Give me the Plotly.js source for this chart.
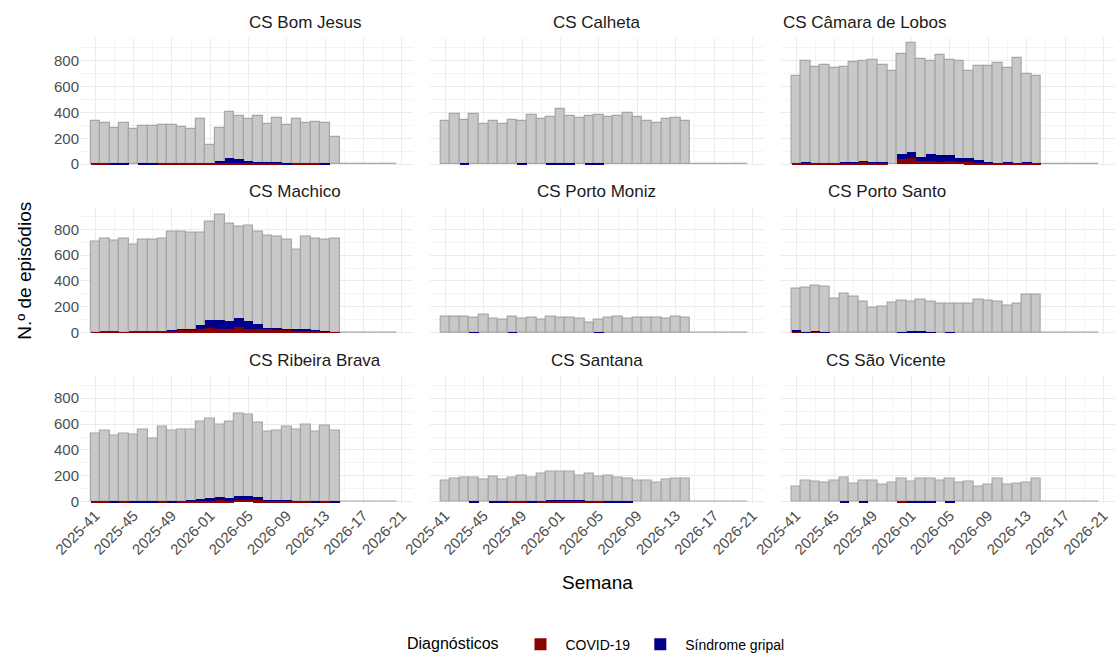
<!DOCTYPE html>
<html>
<head>
<meta charset="utf-8">
<script src="https://cdn.plot.ly/plotly-3.0.1.min.js"></script>
<style>body{margin:0}#chart{width:1120px;height:666px}</style>
</head>
<body>
<div id="chart"></div>
<script>
// semanas 2025-41 .. 2026-21
let weeks = [];
for (let w = 41; w <= 52; w++) weeks.push('2025-' + w);
for (let w = 1; w <= 21; w++) weeks.push('2026-' + String(w).padStart(2, '0'));
let tickLabels = ['2025-41','2025-45','2025-49','2026-01','2026-05','2026-09','2026-13','2026-17','2026-21'];

let centros = ['CS Bom Jesus','CS Calheta','CS Câmara de Lobos','CS Machico','CS Porto Moniz','CS Porto Santo','CS Ribeira Brava','CS Santana','CS São Vicente'];

let totBomJesus   = [330,320,280,315,270,295,295,300,300,285,275,345,150,280,405,375,350,370,310,360,305,345,320,325,320,210];
let totCalheta    = [330,385,340,385,310,335,310,340,335,380,350,365,425,370,355,375,380,365,370,395,365,335,320,350,360,335];
let totCamara     = [680,800,750,770,740,750,790,800,805,770,720,850,940,810,795,840,805,800,720,760,760,780,745,820,700,820,680].slice(0,25).concat([680]);
let totMachico    = [700,730,710,730,680,720,720,730,780,780,770,770,860,910,840,820,830,780,750,740,720,640,740,730,720,730];
let totPortoMoniz = [120,125,125,110,135,105,100,120,105,115,95,125,110,110,105,75,95,110,120,105,110,115,115,105,120,110];
let totPortoSanto = [340,350,360,355,260,300,280,240,190,200,230,245,240,250,240,225,225,225,220,250,245,235,205,220,290,295];
let totRibeira    = [530,550,510,530,520,560,490,580,550,560,560,620,640,600,620,680,670,610,540,550,580,560,600,540,590,550];
let totSantana    = [160,180,185,185,170,195,170,190,200,185,215,235,230,235,205,215,195,200,190,175,160,160,150,170,175,180];
let totSaoVicente = [120,165,155,150,165,185,140,165,165,135,150,175,155,175,180,165,175,150,155,120,135,175,130,140,150,180];

let gripBomJesus   = [5,8,10,5,0,5,10,10,12,10,12,12,10,25,45,40,25,20,20,15,12,10,5,12,8,0];
let gripCalheta    = [0,0,2,0,0,0,0,0,2,0,0,5,8,2,0,2,2,0,0,0,0,0,0,0,0,0];
let gripCamara     = [5,15,12,10,10,20,20,25,15,15,0,80,90,55,75,70,70,50,45,30,20,10,15,10,15,10];
let gripMachico    = [5,15,10,5,10,15,15,15,20,25,30,60,100,95,90,115,90,65,40,35,30,25,25,20,10,5];
let gripPortoMoniz = [0,0,0,2,0,0,0,2,0,0,0,0,0,0,0,0,2,0,0,0,0,0,0,0,0,0];
let gripPortoSanto = [20,5,15,5,0,0,0,0,0,0,0,5,10,8,5,0,5,0,0,0,0,0,0,0,0,0];
let gripRibeira    = [10,10,5,8,5,5,10,10,5,10,20,25,30,40,30,50,50,40,20,15,15,10,10,5,10,5];
let gripSantana    = [0,0,0,5,0,5,5,8,5,5,10,15,20,20,15,10,10,5,5,5,0,0,0,0,0,0];
let gripSaoVicente = [0,0,0,0,0,5,0,5,0,0,0,0,5,5,5,0,5,0,0,0,0,0,0,0,0,0];

let covBomJesus   = [5,5,0,0,0,0,0,3,5,8,5,5,5,5,10,8,5,5,5,5,0,5,5,5,0,0];
let covCalheta    = [0,0,0,0,0,0,0,0,0,0,0,0,0,0,0,0,0,0,0,0,0,0,0,0,0,0];
let covCamara     = [5,10,10,5,5,5,10,15,10,10,0,40,45,25,25,20,25,20,15,10,5,5,10,5,10,5];
let covMachico    = [5,15,10,5,10,10,15,15,15,20,20,30,35,30,30,45,30,30,25,20,20,15,15,10,5,5];
let covPortoMoniz = [0,0,0,0,0,0,0,0,0,0,0,0,0,0,0,0,0,0,0,0,0,0,0,0,0,0];
let covPortoSanto = [5,0,5,0,0,0,0,0,0,0,0,0,0,0,0,0,0,0,0,0,0,0,0,0,0,0];
let covRibeira    = [5,5,0,5,0,0,0,5,0,5,5,10,10,15,10,20,20,15,10,5,5,5,5,0,5,0];
let covSantana    = [0,0,0,0,0,0,0,5,5,0,5,10,10,5,5,5,5,0,0,0,0,0,0,0,0,0];
let covSaoVicente = [0,0,0,0,0,0,0,0,0,0,0,5,0,0,0,0,0,0,0,0,0,0,0,0,0,0];

let totais = [totBomJesus,totCalheta,totCamara,totMachico,totPortoMoniz,totPortoSanto,totRibeira,totSantana,totSaoVicente];
let gripal = [gripBomJesus,gripCalheta,gripCamara,gripMachico,gripPortoMoniz,gripPortoSanto,gripRibeira,gripSantana,gripSaoVicente];
let covid  = [covBomJesus,covCalheta,covCamara,covMachico,covPortoMoniz,covPortoSanto,covRibeira,covSantana,covSaoVicente];

let nCat = 32;   // até 2026-20, com zeros no fim
let xIdx = [];
for (let i = 0; i < nCat; i++) xIdx.push(i);
let tickIdx = tickLabels.map(t => weeks.indexOf(t));
let minorIdx = tickIdx.map(v => v + 2).slice(0, -1);

function pad(arr) {
    let out = arr.slice();
    while (out.length < nCat) out.push(0);
    return out;
}

let colDom = [[0, 0.322], [0.338, 0.661], [0.677, 1]];
let rowDom = [[0.726, 1], [0.364, 0.637], [0, 0.274]];

let traces = [];
let layout = {
    width: 1120, height: 666,
    margin: {l: 80, r: 5, t: 38, b: 156},
    paper_bgcolor: 'white', plot_bgcolor: 'white',
    barmode: 'overlay', bargap: 0,
    font: {family: 'Liberation Sans, Arial, sans-serif', color: '#4d4d4d', size: 14},
    showlegend: true,
    legend: {orientation: 'h', x: 0.5, xanchor: 'center', y: -0.27, yanchor: 'top',
             title: {text: 'Diagnósticos  ', font: {size: 16, color: 'black'}},
             font: {size: 14, color: 'black'}, itemwidth: 40},
    annotations: []
};

centros.forEach((nome, k) => {
    let r = Math.floor(k / 3), c = k % 3;
    let sx = k === 0 ? '' : String(k + 1);
    let xa = 'x' + sx, ya = 'y' + sx;
    traces.push({x: xIdx, y: pad(totais[k]), type: 'bar', xaxis: xa, yaxis: ya, width: 1,
        marker: {color: '#c8c8c8', line: {color: '#a6a6a6', width: 1.2}}, showlegend: false, hoverinfo: 'skip'});
    traces.push({x: xIdx, y: pad(gripal[k]), type: 'bar', xaxis: xa, yaxis: ya, width: 1,
        name: 'Síndrome gripal', legendgroup: 'g', legendrank: 2, showlegend: k === 0,
        marker: {color: '#00008B', line: {width: 0}}});
    traces.push({x: xIdx, y: pad(covid[k]), type: 'bar', xaxis: xa, yaxis: ya, width: 1,
        name: 'COVID-19', legendgroup: 'c', legendrank: 1, showlegend: k === 0,
        marker: {color: '#8B0000', line: {width: 0}}});

    layout['xaxis' + sx] = {
        domain: colDom[c], anchor: ya, range: [-1.6, 33.2],
        tickvals: tickIdx, ticktext: tickLabels, showticklabels: r === 2,
        tickangle: -45, tickfont: {size: 15, color: '#4d4d4d'}, ticks: '',
        showgrid: true, gridcolor: '#ebebeb', gridwidth: 1.2, zeroline: false, showline: false,
        minor: {tickvals: minorIdx, showgrid: true, gridcolor: '#f4f4f4', gridwidth: 0.6}
    };
    layout['yaxis' + sx] = {
        domain: rowDom[r], anchor: xa, range: [-10, 975],
        tickvals: [0, 200, 400, 600, 800], showticklabels: c === 0,
        tickfont: {size: 15, color: '#4d4d4d'}, ticks: '',
        showgrid: true, gridcolor: '#ebebeb', gridwidth: 1.2, zeroline: false, showline: false,
        minor: {tickvals: [100, 300, 500, 700, 900], showgrid: true, gridcolor: '#f4f4f4', gridwidth: 0.6}
    };
    layout.annotations.push({text: nome, xref: 'paper', yref: 'paper',
        x: (colDom[c][0] + colDom[c][1]) / 2, y: rowDom[r][1], yanchor: 'bottom', yshift: 4,
        showarrow: false, font: {size: 17, color: '#1a1a1a'}});
});

layout.annotations.push({text: 'Semana', xref: 'paper', yref: 'paper', x: 0.5, y: -0.17,
    yanchor: 'middle', showarrow: false, font: {size: 19, color: 'black'}});
layout.annotations.push({text: 'N.º de episódios', xref: 'paper', yref: 'paper', x: -0.066, y: 0.5,
    textangle: -90, showarrow: false, font: {size: 19, color: 'black'}});

Plotly.newPlot('chart', traces, layout, {displayModeBar: false});
</script>
</body>
</html>
